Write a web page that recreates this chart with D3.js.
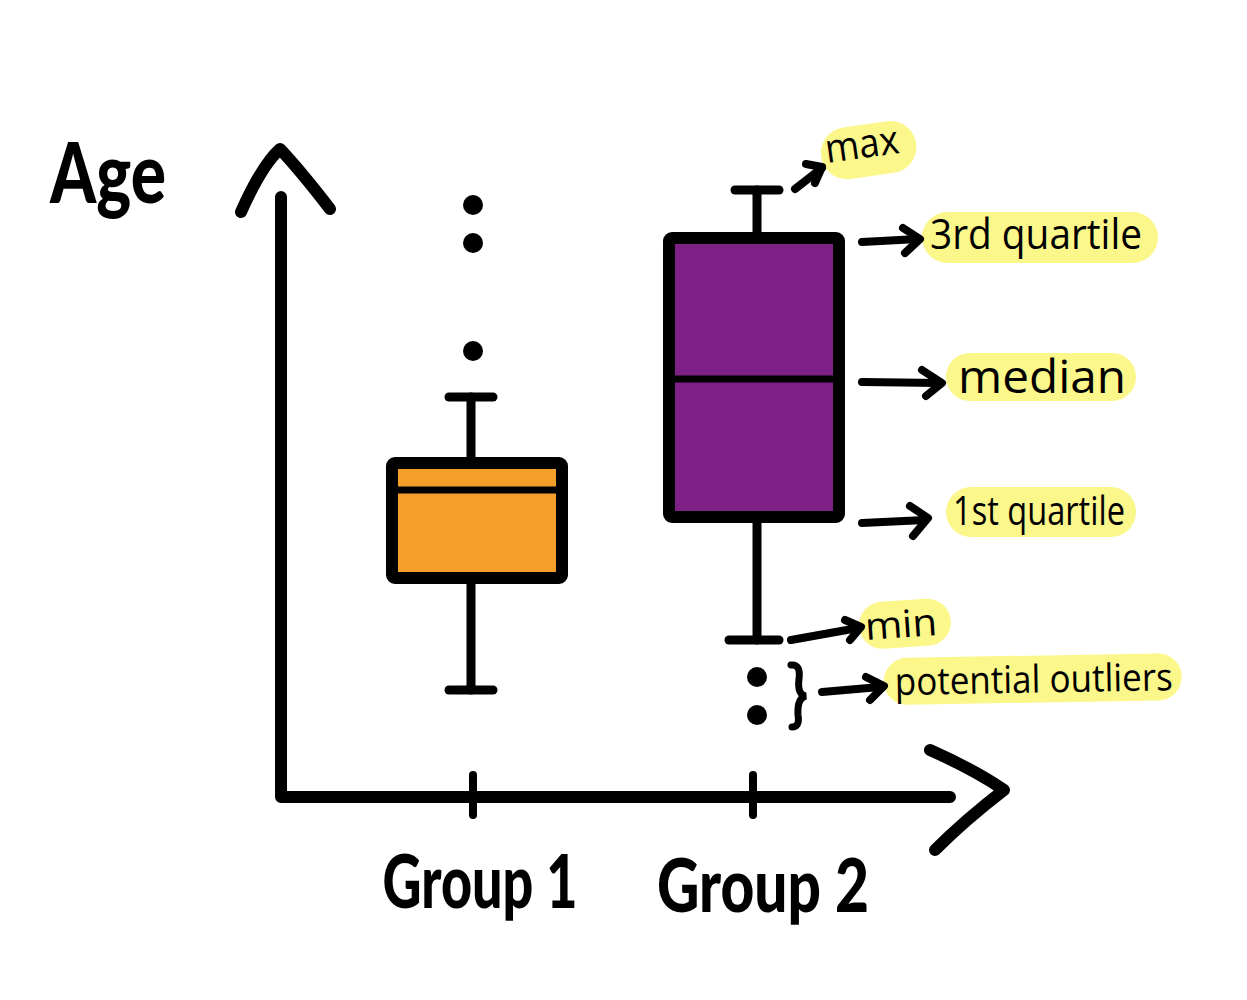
<!DOCTYPE html>
<html><head><meta charset="utf-8">
<script src="https://cdn.jsdelivr.net/npm/d3@7"></script>
<style>html,body{margin:0;padding:0;background:#fff;}svg{display:block;}</style>
</head><body>
<svg id="chart" width="1247" height="1000"></svg>
<script>
// ---- data ----
const groups = ["Group 1", "Group 2"];
const mins = [10.7, 15.7];
const q1s = [21.9, 28.0];
const medians = [30.7, 41.8];
const q3s = [33.4, 55.9];
const maxs = [40.0, 60.7];
const outliers = [[44.6, 55.4, 59.2], [12.0, 8.2]];
const fills = ["#F49F2A", "#7F2086"];
const yLabel = "Age";
const annotLabels = ["max", "3rd quartile", "median", "1st quartile", "min", "potential outliers"];

// ---- layout ----
const svg = d3.select("#chart");
const y = d3.scaleLinear().domain([0, 60]).range([797, 197]);
const x = d3.scalePoint().domain(groups).range([474, 754]);
const boxW = 170, capW = 44;
const ink = "#000";

// axes
const g = svg.append("g").attr("stroke-linecap", "round").attr("stroke-linejoin", "round");
g.append("path").attr("d", `M281,${y(60)} L281,${y(0)} L950,${y(0)}`)
  .attr("fill", "none").attr("stroke", ink).attr("stroke-width", 12);
g.append("path").attr("d", "M241,212 Q262,165 280,149 Q300,170 330,209")
  .attr("fill", "none").attr("stroke", ink).attr("stroke-width", 12);
g.append("path").attr("d", "M930,750 Q975,770 1004,790 Q965,820 935,850")
  .attr("fill", "none").attr("stroke", ink).attr("stroke-width", 12);
g.selectAll(".tick").data(groups).join("line")
  .attr("x1", d => x(d) - 1).attr("x2", d => x(d) - 1)
  .attr("y1", y(0) - 22).attr("y2", y(0) + 18)
  .attr("stroke", ink).attr("stroke-width", 8);

// axis labels
svg.append("text").text(yLabel).attr("x", 50).attr("y", 203)
  .attr("font-family", "Lato").attr("font-weight", 900).attr("font-size", 84)
  .attr("textLength", 116).attr("lengthAdjust", "spacingAndGlyphs").attr("fill", ink);
svg.selectAll(".glabel").data(groups).join("text")
  .text(d => d)
  .attr("x", (d, i) => x(d) + (i ? 9 : 6)).attr("y", (d, i) => 908 + i * 4)
  .attr("text-anchor", "middle")
  .attr("font-family", "Lato").attr("font-weight", 900).attr("font-size", 74)
  .attr("textLength", (d, i) => i ? 212 : 195).attr("lengthAdjust", "spacingAndGlyphs")
  .attr("fill", ink);

// boxes
groups.forEach((grp, i) => {
  const cx = x(grp) + (i ? 0 : 3);
  const wx = x(grp) + (i ? 3 : -3);
  const bg = g.append("g");
  // whiskers
  bg.append("line").attr("x1", wx).attr("x2", wx).attr("y1", y(maxs[i])).attr("y2", y(q3s[i]))
    .attr("stroke", ink).attr("stroke-width", 9);
  bg.append("line").attr("x1", wx).attr("x2", wx).attr("y1", y(q1s[i])).attr("y2", y(mins[i]))
    .attr("stroke", ink).attr("stroke-width", 9);
  bg.append("line").attr("x1", wx - capW / 2).attr("x2", wx + capW / 2).attr("y1", y(maxs[i])).attr("y2", y(maxs[i]))
    .attr("stroke", ink).attr("stroke-width", 9);
  bg.append("line").attr("x1", wx - capW / 2 - (i ? 6 : 0)).attr("x2", wx + capW / 2).attr("y1", y(mins[i])).attr("y2", y(mins[i]))
    .attr("stroke", ink).attr("stroke-width", 9);
  // box
  bg.append("rect").attr("x", cx - boxW / 2).attr("width", boxW)
    .attr("y", y(q3s[i])).attr("height", y(q1s[i]) - y(q3s[i]))
    .attr("fill", fills[i]).attr("stroke", ink).attr("stroke-width", 12).attr("rx", 3);
  bg.append("line").attr("x1", cx - boxW / 2).attr("x2", cx + boxW / 2)
    .attr("y1", y(medians[i])).attr("y2", y(medians[i]))
    .attr("stroke", ink).attr("stroke-width", 7);
  // outliers
  bg.selectAll("circle").data(outliers[i]).join("circle")
    .attr("cx", wx + (i ? 0 : 2)).attr("cy", d => y(d)).attr("r", 10).attr("fill", ink);
});

// annotations (relative to Group 2 stats)
const hl = "#FBF78A";
const ann = [
  {v: maxs[1], tx: 827, ty: 163, len: 74, fs: 40, rot: -8, hx: 822, hy: 130, hw: 96, hh: 52, arrow: "M795,189 L822,168", head: "M806,164 L822,167 L815,183"},
  {v: q3s[1], tx: 930, ty: 249, len: 212, fs: 42, rot: 0, hx: 922, hy: 212, hw: 236, hh: 51, arrow: "M862,242 L918,239", head: "M903,228 L920,239 L905,253"},
  {v: medians[1], tx: 958, ty: 393, len: 168, fs: 46, rot: 0, hx: 946, hy: 353, hw: 190, hh: 48, arrow: "M862,382 L940,383", head: "M922,370 L942,383 L926,396"},
  {v: q1s[1], tx: 953, ty: 525, len: 172, fs: 40, rot: 0, hx: 946, hy: 487, hw: 190, hh: 50, arrow: "M862,523 L925,520", head: "M910,506 L928,518 L913,536"},
  {v: mins[1], tx: 866, ty: 640, len: 72, fs: 38, rot: -4, hx: 860, hy: 603, hw: 92, hh: 47, arrow: "M791,640 L858,628", head: "M845,620 L861,627 L850,640"},
  {v: outliers[1][0], tx: 895, ty: 695, len: 278, fs: 38, rot: -1, hx: 884, hy: 658, hw: 298, hh: 47, arrow: "M822,692 L880,687", head: "M866,677 L884,686 L870,700"}
];
const ag = svg.append("g");
ann.forEach((a, i) => {
  const t = ag.append("g").attr("transform", `rotate(${a.rot},${a.tx},${a.ty})`);
  t.append("rect").attr("x", a.hx).attr("y", a.hy).attr("width", a.hw).attr("height", a.hh)
    .attr("rx", a.hh / 2).attr("fill", hl);
  t.append("text").text(annotLabels[i]).attr("x", a.tx).attr("y", a.ty)
    .attr("font-family", "Open Sans").attr("font-weight", 400).attr("font-size", a.fs)
    .attr("textLength", a.len).attr("lengthAdjust", "spacingAndGlyphs").attr("fill", ink);
  ag.append("path").attr("d", a.arrow).attr("fill", "none").attr("stroke", ink)
    .attr("stroke-width", 8).attr("stroke-linecap", "round");
  ag.append("path").attr("d", a.head).attr("fill", "none").attr("stroke", ink)
    .attr("stroke-width", 8).attr("stroke-linecap", "round").attr("stroke-linejoin", "round");
});
// brace grouping the outliers
ag.append("path")
  .attr("d", `M791,${y(12) - 12} Q801,${y(12) - 13} 799,${y(12) + 2} Q797,${y(10.2)} 806,${y(10.2) + 1} Q797,${y(10.2) + 3} 798,${y(8.2)} Q800,${y(8.2) + 12} 792,${y(8.2) + 12}`)
  .attr("fill", "none").attr("stroke", ink).attr("stroke-width", 7).attr("stroke-linecap", "round");
</script>
</body></html>
